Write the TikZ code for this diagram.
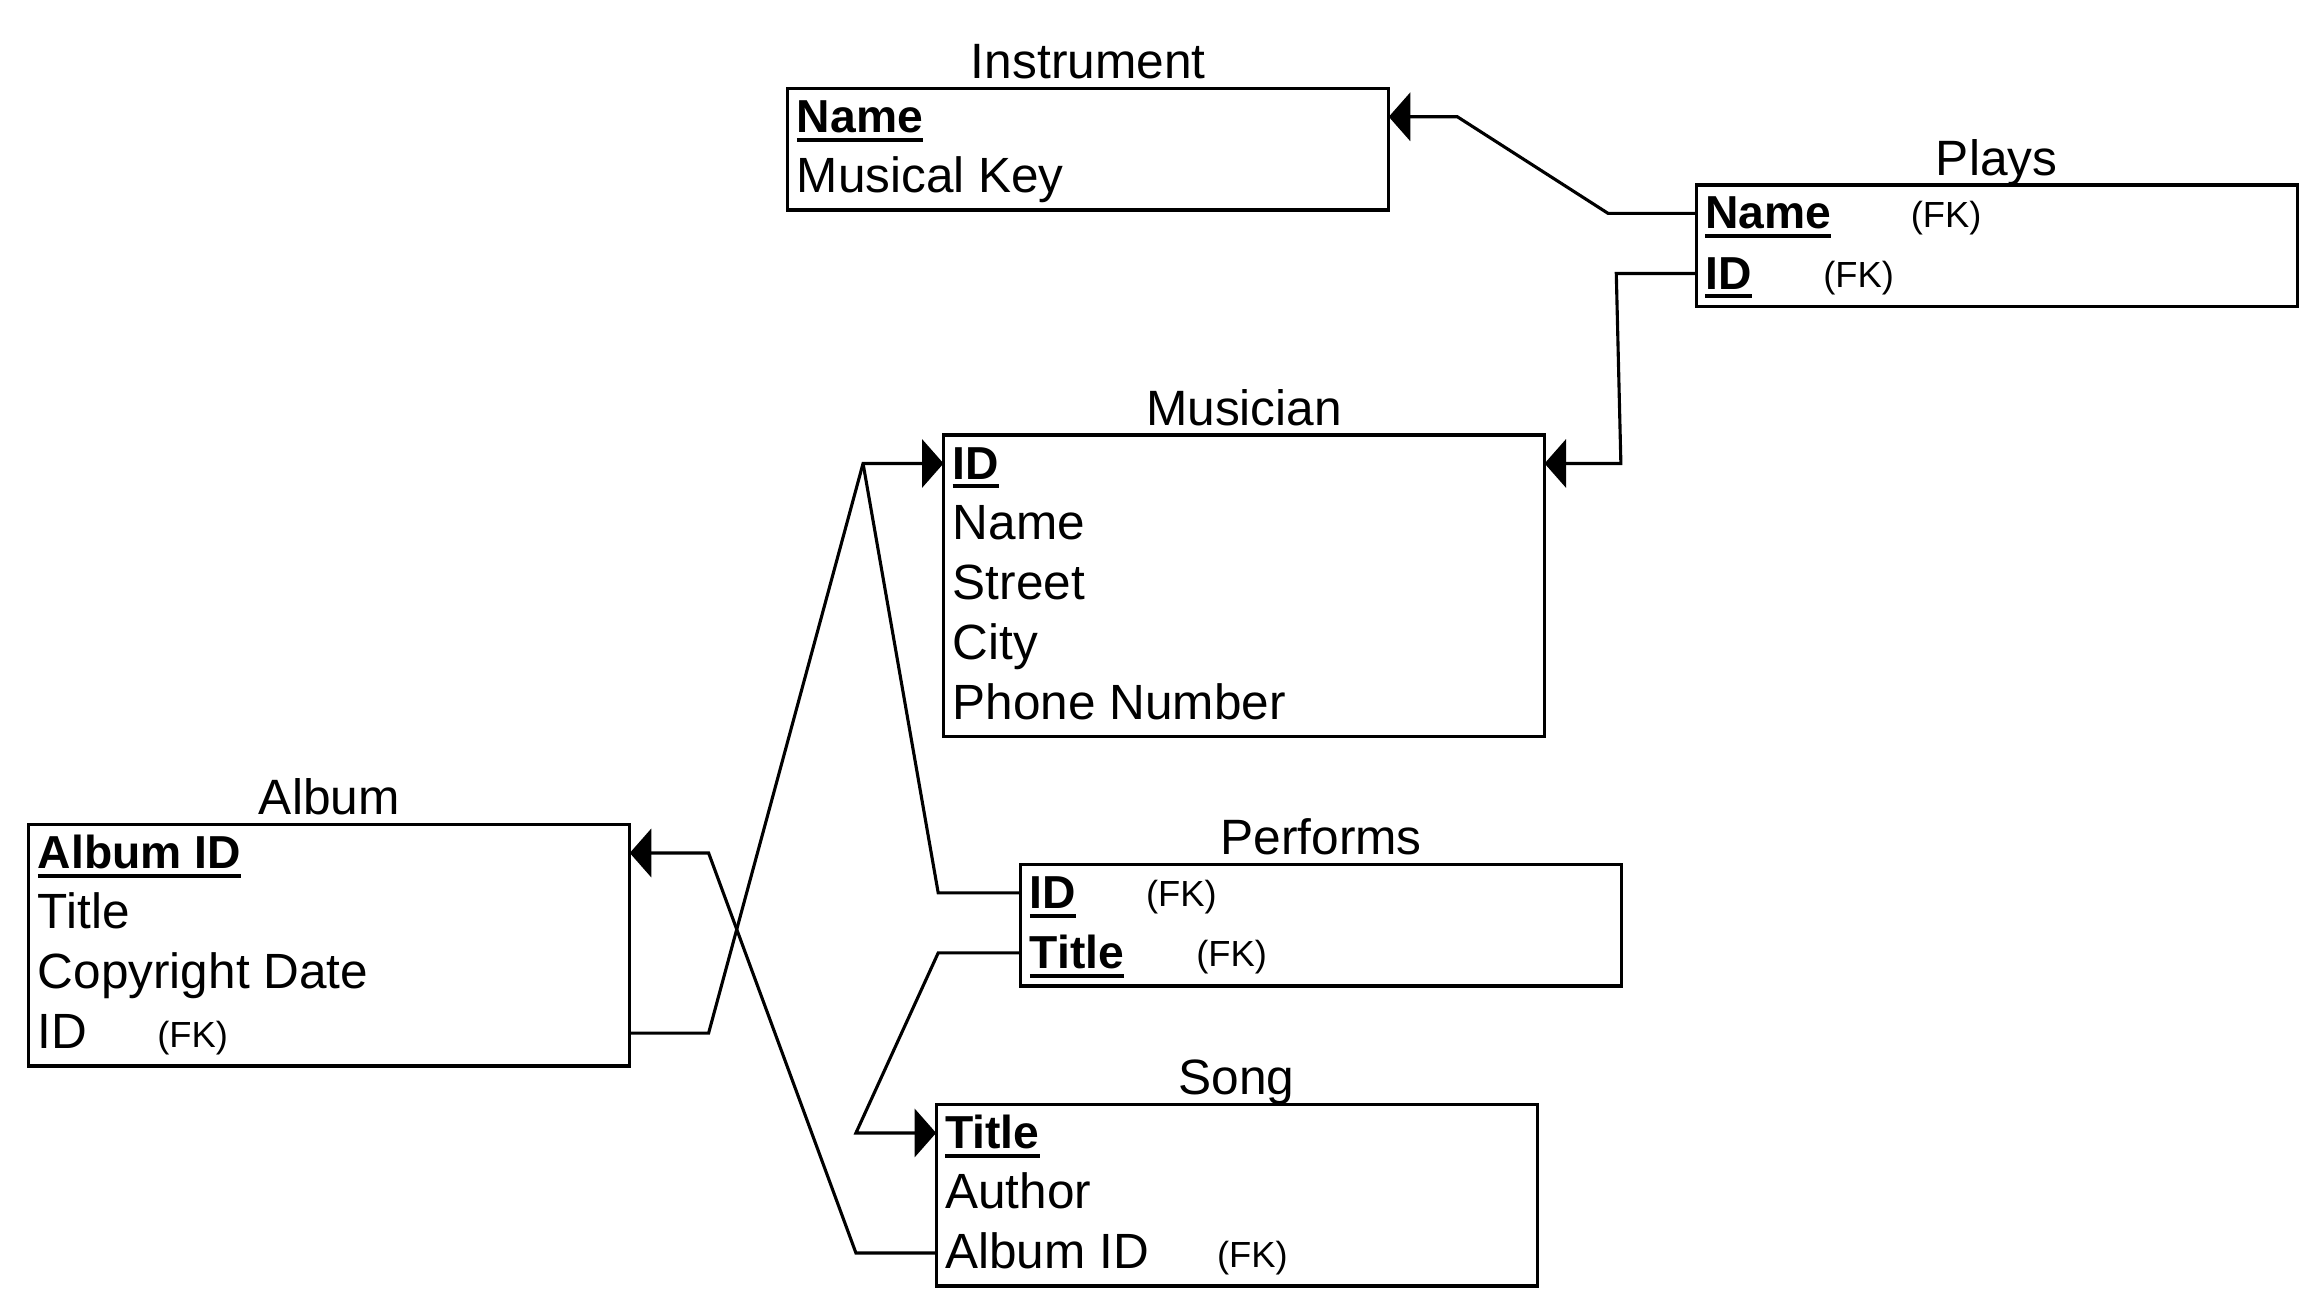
\documentclass[tikz,border=0pt]{standalone}
\usepackage{fontspec}
\setmainfont{Liberation Sans}
\usetikzlibrary{arrows.meta}
\newsavebox\keybox
\newcommand\keyu[1]{\sbox\keybox{\fontsize{31.2}{38}\selectfont\bfseries #1}\rlap{\rule[-6.2pt]{\wd\keybox}{2.7pt}}\usebox\keybox}
\tikzset{
 ebox/.style={draw, line width=2.2pt, rectangle, anchor=north west, minimum width=405.5pt, inner sep=0pt, outer sep=0pt},
 etitle/.style={anchor=base, inner sep=0pt, font=\fontsize{33.5}{38}\selectfont},
 attr/.style={anchor=base west, inner sep=0pt, font=\fontsize{33.4}{38}\selectfont},
 fk/.style={anchor=base west, inner sep=0pt, font=\fontsize{24.5}{28}\selectfont},
 link/.style={line width=2.1pt, line join=miter},
 fkarrow/.style={-{Triangle[length=14.5pt,width=32.5pt]}}
}
\newcommand\erbox[5]{%
  \node[ebox, minimum height={41.5pt+40.5pt*(#5-1)}] (#1) at (#2,#3) {};
  \node[etitle] (#1-title) at ([yshift=6.7pt]#1.north) {#4};
}
\newcommand\attrrow[3]{%
  \node[attr] (#1-a#2) at ([xshift=6pt, yshift={-29.7pt-40.5pt*(#2-1)}]#1.north west) {#3};
  \coordinate (#1-w#2) at ([yshift={-19.2pt-40.5pt*(#2-1)}]#1.north west);
  \coordinate (#1-e#2) at ([yshift={-19.2pt-40.5pt*(#2-1)}]#1.north east);
}
\newcommand\fkmark[3]{%
  \node[fk] (#1-fk#2) at ([yshift=1pt]#3,0 |- #1-a#2.base) {(FK)};
}
\begin{document}
\begin{tikzpicture}[x=1pt, y=-1pt]
\fill[white] (0,0) rectangle (1568,885.2);
\useasboundingbox (0,0) rectangle (1568,885.2);

% Instrument
\erbox{instrument}{531.5}{59.6}{Instrument}{2}
\attrrow{instrument}{1}{\keyu{Name}}
\attrrow{instrument}{2}{Musical Key}

% Plays
\erbox{plays}{1144.4}{124.8}{Plays}{2}
\attrrow{plays}{1}{\keyu{Name}}
\attrrow{plays}{2}{\keyu{ID}}
\fkmark{plays}{1}{1289}
\fkmark{plays}{2}{1230}

% Musician
\erbox{musician}{636.6}{293.5}{Musician}{5}
\attrrow{musician}{1}{\keyu{ID}}
\attrrow{musician}{2}{Name}
\attrrow{musician}{3}{Street}
\attrrow{musician}{4}{City}
\attrrow{musician}{5}{Phone Number}

% Album
\erbox{album}{19.4}{556.3}{Album}{4}
\attrrow{album}{1}{\keyu{Album ID}}
\attrrow{album}{2}{Title}
\attrrow{album}{3}{Copyright Date}
\attrrow{album}{4}{ID}
\fkmark{album}{4}{106}

% Performs
\erbox{performs}{688.6}{583.2}{Performs}{2}
\attrrow{performs}{1}{\keyu{ID}}
\attrrow{performs}{2}{\keyu{Title}}
\fkmark{performs}{1}{773}
\fkmark{performs}{2}{807}

% Song
\erbox{song}{631.6}{745.2}{Song}{3}
\attrrow{song}{1}{\keyu{Title}}
\attrrow{song}{2}{Author}
\attrrow{song}{3}{Album ID}
\fkmark{song}{3}{821}

% connectors
\coordinate (hub) at ([xshift=-54.3pt]musician-w1);
\draw[link,fkarrow] (plays-w1) -- ++(-59.4,0) -- ([xshift=46.3pt]instrument-e1) -- (instrument-e1);
\draw[link,fkarrow] (plays-w2) -- ++(-53.9,0) -- ([xshift=51.5pt]musician-e1) -- (musician-e1);
\draw[link,fkarrow] (album-e4) -- ++(53.2,0) -- (hub) -- (musician-w1);
\draw[link] (performs-w1) -- ++(-55.6,0) -- (hub);
\draw[link,fkarrow] (performs-w2) -- ++(-55.6,0) -- ([xshift=-54.1pt]song-w1) -- (song-w1);
\draw[link,fkarrow] (song-w3) -- ++(-54.1,0) -- ([xshift=53.2pt]album-e1) -- (album-e1);
\end{tikzpicture}
\end{document}
